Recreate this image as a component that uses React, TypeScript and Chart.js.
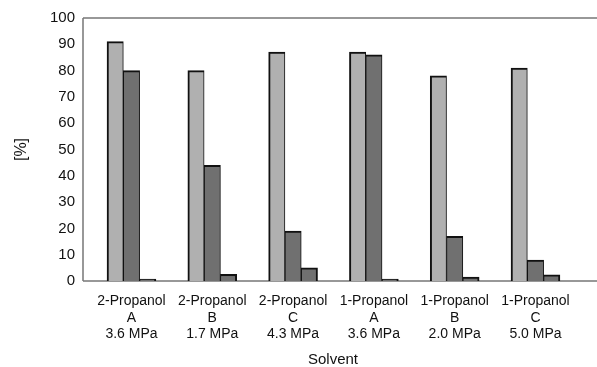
import React, { useEffect, useRef } from "react";
import { Chart, registerables } from "chart.js";

Chart.register(...registerables);

const solvents = ["2-Propanol", "2-Propanol", "2-Propanol", "1-Propanol", "1-Propanol", "1-Propanol"];
const catalysts = ["A", "B", "C", "A", "B", "C"];
const pressures = ["3.6 MPa", "1.7 MPa", "4.3 MPa", "3.6 MPa", "2.0 MPa", "5.0 MPa"];

const seriesLight = [91, 80, 87, 87, 78, 81];
const seriesDark = [80, 44, 19, 86, 17, 8];
const seriesSmall = [0, 2.5, 5, 0, 1.5, 2.3];

const yMin = 0;
const yMax = 100;
const yStep = 10;

const FONT = "'Liberation Sans', Arial, Helvetica, sans-serif";

const framePlugin = {
  id: "frame",
  beforeDatasetsDraw(chart: any) {
    const { ctx, chartArea } = chart;
    const { left, top, bottom } = chartArea;
    ctx.save();
    ctx.strokeStyle = "#777777";
    ctx.lineWidth = 1.5;
    ctx.beginPath();
    ctx.moveTo(left, top);
    ctx.lineTo(chart.width, top);
    ctx.moveTo(left, top);
    ctx.lineTo(left, bottom);
    ctx.moveTo(left, bottom);
    ctx.lineTo(chart.width, bottom);
    ctx.stroke();
    ctx.restore();
  },
};

export default function App() {
  const ref = useRef<HTMLCanvasElement | null>(null);

  useEffect(() => {
    document.body.style.margin = "0";
    const canvas = ref.current;
    if (!canvas) return;
    const toPts = (arr: number[]) => arr.map((v, i) => ({ x: i, y: v }));

    const chart = new Chart(canvas, {
      type: "bar",
      data: {
        datasets: [
          {
            label: "light",
            data: toPts(seriesLight),
            backgroundColor: "#b0b0b0",
            borderColor: "#111111",
            borderWidth: { top: 2, left: 2, right: 1, bottom: 0 },
            barThickness: 16.3,
          },
          {
            label: "dark",
            data: toPts(seriesDark),
            backgroundColor: "#707070",
            borderColor: "#111111",
            borderWidth: { top: 2, left: 1, right: 1, bottom: 0 },
            barThickness: 16.3,
          },
          {
            label: "small",
            data: toPts(seriesSmall),
            backgroundColor: "#707070",
            borderColor: "#111111",
            borderWidth: { top: 2, left: 1, right: 2, bottom: 0 },
            barThickness: 16.3,
            minBarLength: 2,
          },
        ],
      } as any,
      options: {
        animation: false,
        responsive: true,
        maintainAspectRatio: false,
        devicePixelRatio: 1,
        layout: { padding: { top: 18, right: 14, left: 0, bottom: 0 } },
        plugins: {
          legend: { display: false },
          tooltip: { enabled: false },
        },
        scales: {
          x: {
            type: "linear",
            min: -0.6,
            max: 5.588,
            offset: false,
            grid: { display: false, drawTicks: false },
            border: { display: false },
            afterBuildTicks: (scale: any) => {
              scale.ticks = solvents.map((_, i) => ({ value: i }));
            },
            afterFit: (scale: any) => {
              scale.height = 86;
            },
            ticks: {
              autoSkip: false,
              maxRotation: 0,
              minRotation: 0,
              padding: 12,
              color: "#111111",
              font: { family: FONT, size: 14, lineHeight: 1.18 },
              callback: (_v: any, i: number) => [solvents[i], catalysts[i], pressures[i]],
            },
            title: {
              display: true,
              text: "Solvent",
              color: "#111111",
              font: { family: FONT, size: 15, lineHeight: 1 },
              padding: { top: 0, bottom: 0 },
            },
          },
          y: {
            min: yMin,
            max: yMax,
            grid: { display: false, drawTicks: false },
            border: { display: false },
            afterFit: (scale: any) => {
              scale.width = 83;
            },
            ticks: {
              stepSize: yStep,
              padding: 8,
              color: "#111111",
              font: { family: FONT, size: 15 },
            },
            title: {
              display: true,
              text: "[%]",
              color: "#111111",
              font: { family: FONT, size: 16, lineHeight: 1 },
              padding: { top: 14, bottom: 0 },
            },
          },
        },
      } as any,
      plugins: [framePlugin],
    });

    return () => chart.destroy();
  }, []);

  return (
    <div style={{ position: "absolute", left: 0, top: 0, width: 597, height: 367, background: "#ffffff" }}>
      <canvas ref={ref} />
    </div>
  );
}
